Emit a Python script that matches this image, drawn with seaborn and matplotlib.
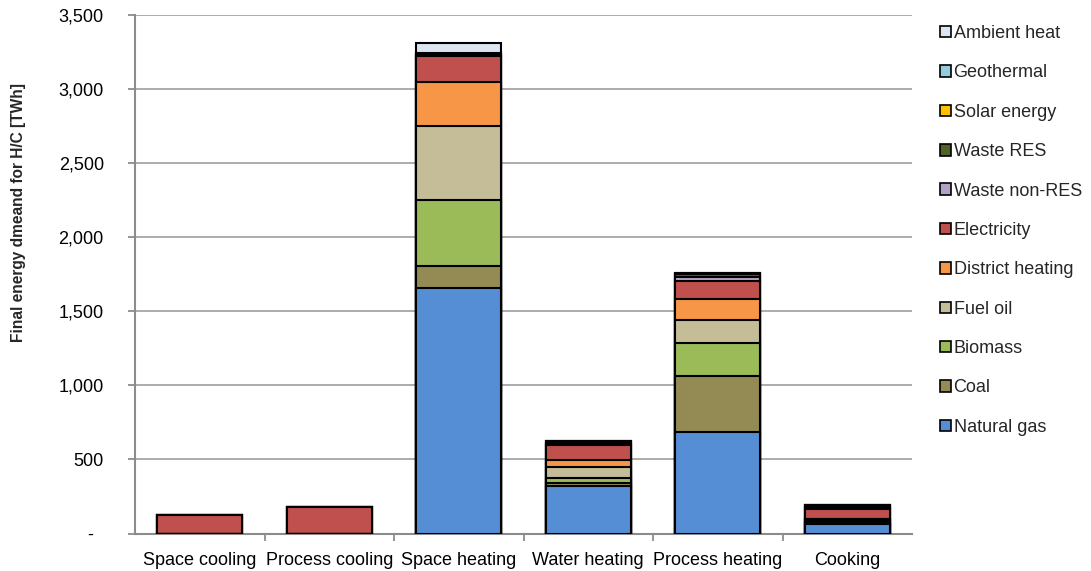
import matplotlib
matplotlib.use("Agg")
import matplotlib.pyplot as plt
import matplotlib.ticker as mticker
from matplotlib.patches import Patch
import numpy as np
import pandas as pd
import seaborn as sns

categories = ["Space cooling", "Process cooling", "Space heating",
              "Water heating", "Process heating", "Cooking"]

# Final energy demand per end use and carrier [TWh]
natural_gas      = [0,   0,   1655, 318, 685, 67]
coal             = [0,   0,   150,  22,  380, 5]
biomass          = [0,   0,   445,  36,  218, 15]
fuel_oil         = [0,   0,   500,  72,  160, 14]
district_heating = [0,   0,   295,  51,  140, 0]
electricity      = [125, 181, 175,  101, 120, 67]
waste_non_res    = [0,   0,   6,    4,   30,  8]
waste_res        = [0,   0,   8,    6,   20,  14]
solar_energy     = [0,   0,   6,    12,  2,   0]
geothermal       = [0,   0,   4,    2,   2,   0]
ambient_heat     = [0,   0,   65,   2,   2,   0]

carriers = ["Natural gas", "Coal", "Biomass", "Fuel oil", "District heating",
            "Electricity", "Waste non-RES", "Waste RES", "Solar energy",
            "Geothermal", "Ambient heat"]
values = [natural_gas, coal, biomass, fuel_oil, district_heating, electricity,
          waste_non_res, waste_res, solar_energy, geothermal, ambient_heat]
colors = ["#558ED5", "#948A54", "#9BBB59", "#C4BD97", "#F79646", "#C0504D",
          "#B3A2C7", "#4F6228", "#FFC000", "#93CDDD", "#DCE6F2"]

sns.set_theme(style="white")
plt.rcParams["font.family"] = ["Liberation Sans", "DejaVu Sans"]

W, H = 1091, 571
fig = plt.figure(figsize=(W / 100, H / 100), dpi=100)
ax = fig.add_axes([135 / W, 1 - 533.5 / H, (912 - 135) / W, (533.5 - 15) / H])

# Stacked bars: draw cumulative totals from the top layer down
df = pd.DataFrame(dict(zip(carriers, values)), index=categories)
cum = df.cumsum(axis=1)
for name, col in zip(reversed(carriers), reversed(colors)):
    sns.barplot(x=categories, y=cum[name].values, color=col, edgecolor="black",
                linewidth=1.5, width=0.66, ax=ax, zorder=3, saturation=1)

ax.set_ylim(0, 3500)
ax.set_xlim(-0.5, len(categories) - 0.5)
ax.yaxis.set_major_locator(mticker.MultipleLocator(500))
ax.yaxis.set_major_formatter(mticker.FuncFormatter(
    lambda v, p: "-  " if v == 0 else f"{v:,.0f}"))
ax.grid(axis="y", color="#A6A6A6", linewidth=1.3, zorder=0)
ax.set_axisbelow(True)

for s in ["top", "right"]:
    ax.spines[s].set_visible(False)
for s in ["left", "bottom"]:
    ax.spines[s].set_color("#8C8C8C")
    ax.spines[s].set_linewidth(1.5)

ax.tick_params(axis="y", which="major", left=True, length=5, width=1.3,
               color="#8C8C8C", labelsize=13, pad=17.5, labelcolor="black")
ax.tick_params(axis="x", which="major", bottom=False, labelsize=13, pad=7.5,
               labelcolor="black")
ax.xaxis.set_minor_locator(mticker.FixedLocator(np.arange(0.5, len(categories) - 1, 1)))
ax.tick_params(axis="x", which="minor", bottom=True, length=5, width=1.3,
               color="#8C8C8C")

ax.set_xlabel("")
ax.set_ylabel("")
fig.text(19 / W, 1 - 212 / H, "Final energy dmeand for H/C [TWh]", rotation=90,
         ha="center", va="center", fontsize=11.2, fontweight="bold")

handles = [Patch(facecolor=c, edgecolor="black", linewidth=1.2) for c in reversed(colors)]
leg = ax.legend(handles, list(reversed(carriers)), loc="upper left",
                bbox_to_anchor=(940 / W, 1 - 25 / H), bbox_transform=fig.transFigure,
                frameon=False, fontsize=13, handlelength=0.6, handleheight=0.6,
                handletextpad=0.15, labelspacing=1.24, borderpad=0, borderaxespad=0)

fig.savefig("out.png", dpi=100)
